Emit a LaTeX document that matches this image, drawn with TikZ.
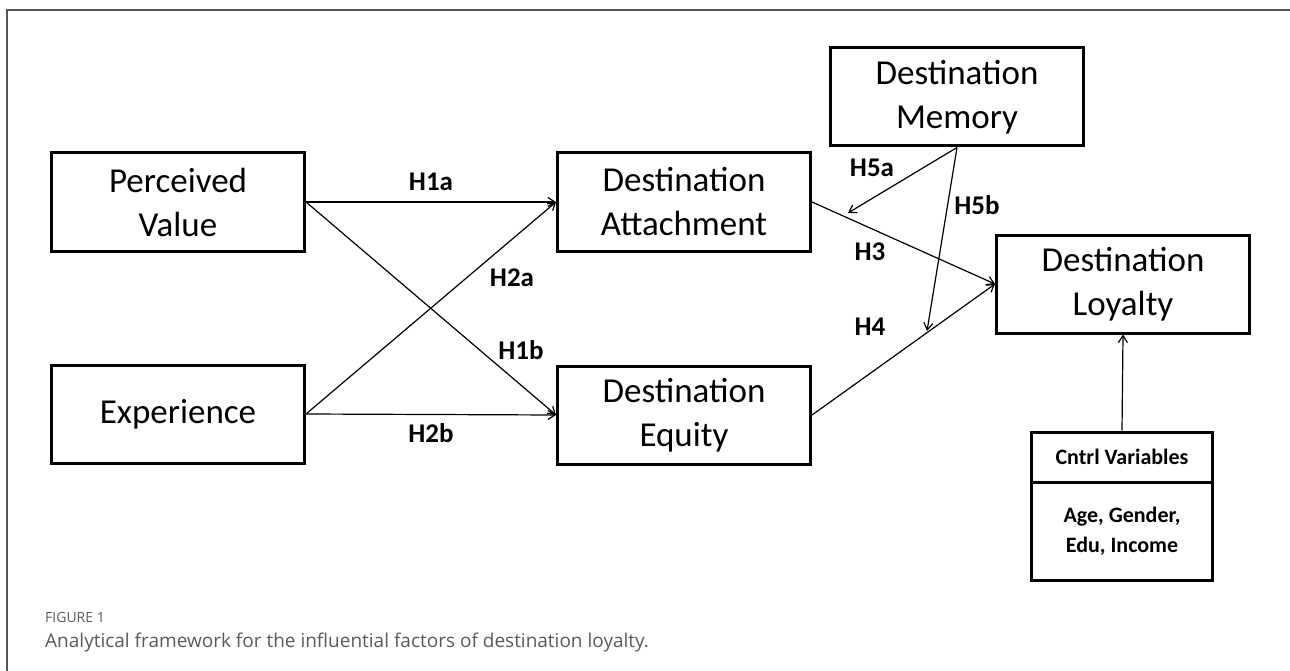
\documentclass[tikz,border=0pt]{standalone}
\usepackage{fontspec}
\setmainfont{Carlito}
\newfontfamily\capfont{Open Sans}
\usetikzlibrary{arrows.meta}

\definecolor{framegray}{HTML}{555555}
\definecolor{capgray}{HTML}{5A5A5A}

\tikzset{
    factor/.style={draw=black, line width=3pt, minimum width=253pt, minimum height=98pt,
        align=center, inner sep=0pt, font=\fontsize{35}{44}\selectfont},
    ctrlbox/.style={draw=black, line width=3pt, minimum width=181pt,
        align=center, inner sep=0pt, font=\bfseries\fontsize{22}{30}\selectfont},
    effect/.style={line width=1.2pt, -{Straight Barb[length=7pt,width=9pt]}},
    hyp/.style={font=\bfseries\fontsize{27}{30}\selectfont, inner sep=0pt}
}

\begin{document}
\begin{tikzpicture}[x=1pt, y=-1pt]
    \useasboundingbox (0,0) rectangle (1290,671);
    \draw[framegray, line width=1.6pt] (7,671) -- (7,10) -- (1290,10);

    % constructs
    \node[factor] (value) at (178,202) {Perceived\\Value};
    \node[factor] (exper) at (178,414) {Experience};
    \node[factor] (attach) at (684,202) {Destination\\Attachment};
    \node[factor] (equity) at (684,415) {Destination\\Equity};
    \node[factor] (memory) at (957,97) {Destination\\Memory};
    \node[factor] (loyal) at (1123,284) {Destination\\Loyalty};

    % control variables
    \node[ctrlbox, minimum height=50pt] (ctrltop) at (1122,457) {Cntrl Variables};
    \node[ctrlbox, minimum height=98pt] (ctrlbot) at (1122,531) {Age, Gender,\\Edu, Income};

    \coordinate (modA) at (848,213);
    \coordinate (modB) at (927,331);

    % paths
    \draw[effect] (value.east) -- (attach.west);
    \draw[effect] (value.east) -- (equity.west);
    \draw[effect] (exper.east) -- (attach.west);
    \draw[effect] (exper.east) -- (equity.west);
    \draw[effect] (attach.east) -- (loyal.west);
    \draw[effect] (equity.east) -- (loyal.west);
    \draw[effect] (memory.south) -- (modA);
    \draw[effect] (memory.south) -- (modB);
    \draw[effect] (ctrltop.north) -- (loyal.south);

    % hypotheses
    \node[hyp] (h1a) at (431,182) {H1a};
    \node[hyp] (h2a) at (512,278) {H2a};
    \node[hyp] (h1b) at (521,350) {H1b};
    \node[hyp] (h2b) at (431,433) {H2b};
    \node[hyp] (h5a) at (872,168) {H5a};
    \node[hyp] (h5b) at (977,205) {H5b};
    \node[hyp] (h3) at (870,252) {H3};
    \node[hyp] (h4) at (870,327) {H4};

    % caption
    \node[anchor=base west, inner sep=0pt, text=capgray, font=\capfont\fontsize{14}{16}\selectfont]
        (fig) at (45,622) {FIGURE 1};
    \node[anchor=base west, inner sep=0pt, text=capgray, font=\capfont\fontsize{19}{22}\selectfont]
        (cap) at (45,647) {Analytical framework for the influential factors of destination loyalty.};
\end{tikzpicture}
\end{document}
